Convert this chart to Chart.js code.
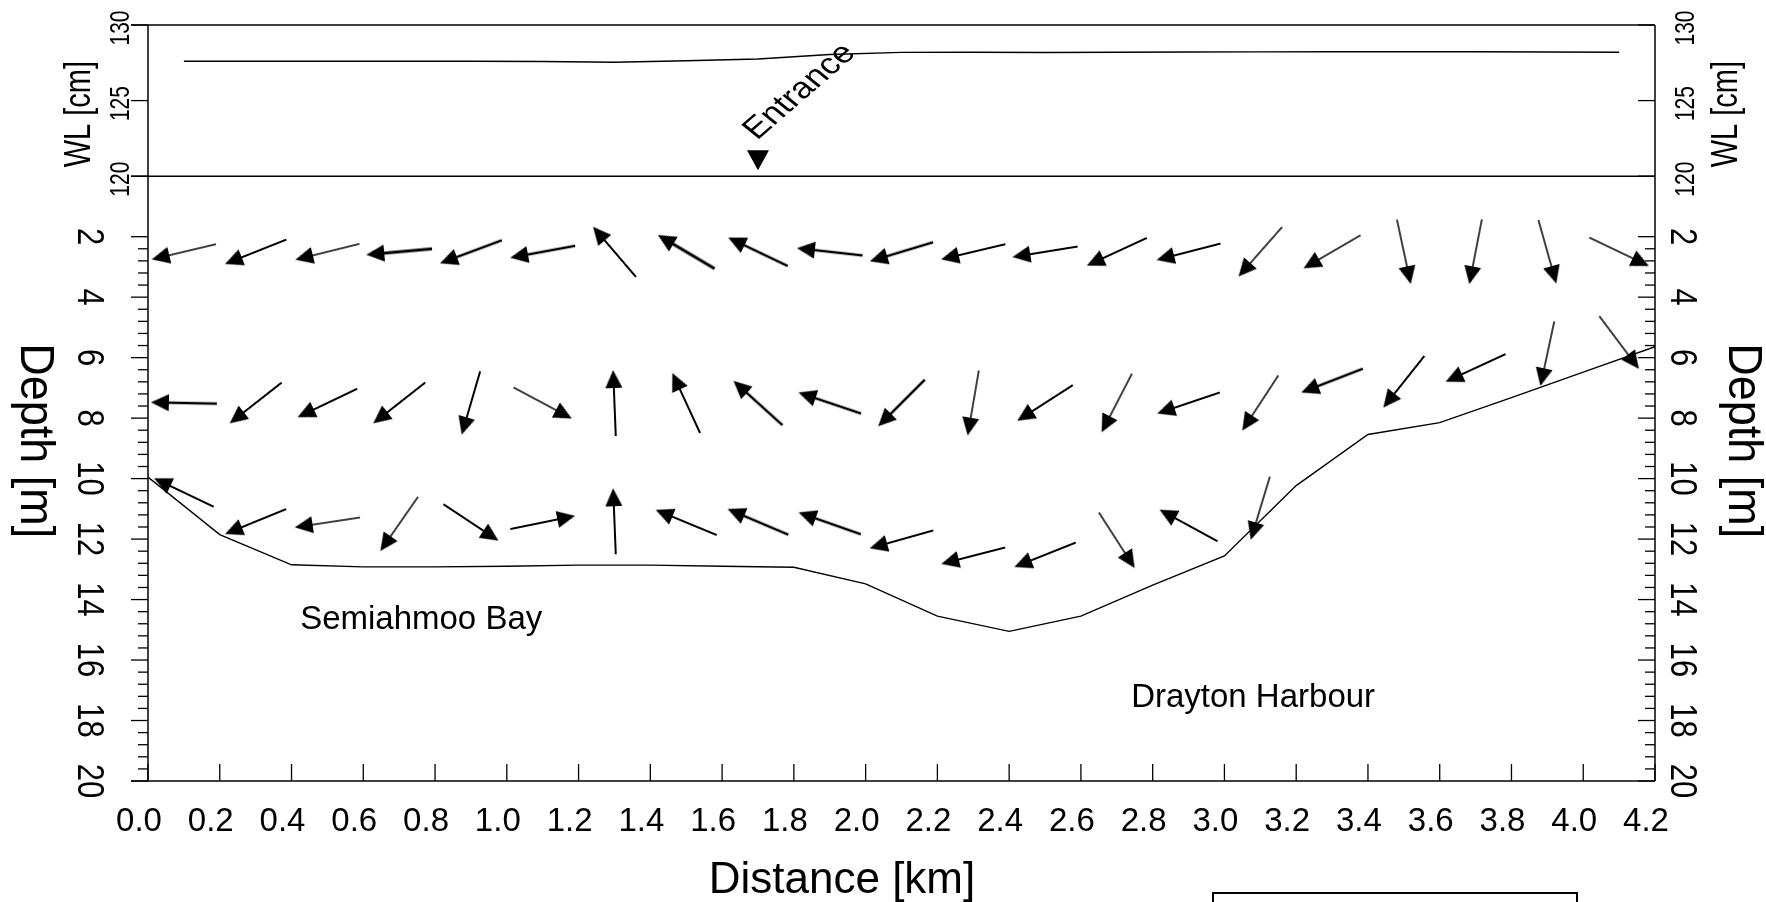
<!DOCTYPE html>
<html>
<head>
<meta charset="utf-8">
<title>Semiahmoo Bay - Drayton Harbour section</title>
<script src="https://cdn.jsdelivr.net/npm/chart.js@4.4.1/dist/chart.umd.min.js"></script>
<style>
  html, body { margin: 0; padding: 0; background: #fff; }
  canvas { display: block; }
</style>
</head>
<body>
<canvas id="section" width="1766" height="902"></canvas>
<script>
// stations along the section (km) where output is shown
const stations = [0.1, 0.3, 0.5, 0.7, 0.9, 1.1, 1.3, 1.5, 1.7, 1.9, 2.1, 2.3, 2.5, 2.7, 2.9, 3.1, 3.3, 3.5, 3.7, 3.9, 4.1];

// water level (cm)
const waterLevel = [127.6, 127.6, 127.6, 127.6, 127.6, 127.59, 127.54, 127.64, 127.75, 128.05, 128.19, 128.2, 128.18, 128.2, 128.21, 128.22, 128.23, 128.23, 128.23, 128.21, 128.2];

// bottom profile
const bedKm = [0, 0.2, 0.4, 0.6, 0.8, 1.0, 1.2, 1.4, 1.6, 1.8, 2.0, 2.2, 2.4, 2.6, 2.8, 3.0, 3.2, 3.4, 3.6, 3.8, 4.0, 4.2];
const bedDepth = [9.95, 11.85, 12.85, 12.92, 12.92, 12.9, 12.86, 12.86, 12.9, 12.93, 13.48, 14.55, 15.05, 14.55, 13.52, 12.56, 10.23, 8.54, 8.15, 7.32, 6.48, 5.64];

// current vectors: direction (u along section, w upward) and speed (cm/s)
const topDepth = [2.5, 2.5, 2.5, 2.5, 2.5, 2.5, 2.5, 2.5, 2.5, 2.5, 2.5, 2.5, 2.5, 2.5, 2.5, 2.5, 2.5, 2.5, 2.5, 2.5, 2.5];
const topU = [-0.97, -0.93, -0.97, -1.0, -0.94, -0.98, -0.65, -0.86, -0.9, -0.99, -0.96, -0.97, -0.99, -0.91, -0.97, -0.66, -0.86, 0.21, -0.19, 0.27, 0.9];
const topW = [-0.23, -0.37, -0.24, -0.09, -0.35, -0.18, 0.76, 0.51, 0.43, 0.11, -0.29, -0.23, -0.16, -0.42, -0.25, -0.75, -0.5, -0.98, -0.98, -0.96, -0.43];
const topSpeed = [13, 17, 13, 27, 24, 20, 18, 27, 24, 24, 22, 17, 17, 18, 18, 14, 14, 12, 12, 14, 14];

const midDepth = [7.5, 7.5, 7.5, 7.5, 7.5, 7.5, 7.5, 7.5, 7.5, 7.5, 7.5, 7.5, 7.5, 7.5, 7.5, 7.5, 6.76, 6.8, 6.34, 5.87, 5.5];
const midU = [-1.0, -0.79, -0.9, -0.79, -0.28, 0.88, -0.04, -0.42, -0.74, -0.95, -0.71, -0.17, -0.84, -0.46, -0.95, -0.55, -0.93, -0.62, -0.91, -0.21, 0.6];
const midW = [0.02, -0.62, -0.43, -0.62, -0.96, -0.47, 1.0, 0.91, 0.67, 0.32, -0.71, -0.99, -0.54, -0.89, -0.32, -0.84, -0.36, -0.78, -0.42, -0.98, -0.8];
const midSpeed = [20, 17, 16, 16, 16, 14, 16, 16, 20, 20, 20, 13, 16, 14, 16, 14, 20, 17, 16, 13, 11];

const botDepth = [10.46, 11.42, 11.45, 11.5, 11.45, 11.45, 11.41, 11.45, 11.43, 11.48, 12.01, 12.55, 12.52, 12.04, 11.55, 10.98];
const botU = [-0.9, -0.93, -0.99, -0.57, 0.83, 0.98, -0.04, -0.92, -0.92, -0.94, -0.96, -0.97, -0.93, 0.54, -0.88, -0.29];
const botW = [0.43, -0.38, -0.15, -0.82, -0.55, 0.2, 1.0, 0.38, 0.39, 0.33, -0.27, -0.25, -0.37, -0.84, 0.48, -0.96];
const botSpeed = [17, 16, 14, 14, 16, 17, 15, 17, 20, 20, 17, 17, 18, 13, 17, 11];

// axis ticks
const distTicks = [0.0, 0.2, 0.4, 0.6, 0.8, 1.0, 1.2, 1.4, 1.6, 1.8, 2.0, 2.2, 2.4, 2.6, 2.8, 3.0, 3.2, 3.4, 3.6, 3.8, 4.0, 4.2];
const depthTicks = [2, 4, 6, 8, 10, 12, 14, 16, 18, 20];
const wlTicks = [120, 125, 130];

const FONT = '"Liberation Sans", Arial, sans-serif';

// all arrows have the same length, shaft width shows the speed
const glyphs = {};
function arrowGlyph(speed) {
    if (glyphs[speed]) return glyphs[speed];
    const c = document.createElement("canvas");
    c.width = 68;
    c.height = 22;
    const g = c.getContext("2d");
    g.fillStyle = "#000";
    g.strokeStyle = "#000";
    g.lineWidth = speed / 10 + 0.3;
    g.beginPath();
    g.moveTo(1, 11);
    g.lineTo(52, 11);
    g.stroke();
    g.beginPath();
    g.moveTo(67, 11);
    g.lineTo(49, 2.5);
    g.lineTo(49, 19.5);
    g.closePath();
    g.fill();
    glyphs[speed] = c;
    return c;
}

function vectorSet(xs, depths, u, w, speed) {
    return {
        data: depths.map((d, i) => ({ x: xs[i], y: d })),
        yAxisID: "depth",
        showLine: false,
        clip: false,
        pointRadius: 5,
        pointStyle: (c) => arrowGlyph(speed[c.dataIndex || 0]),
        pointRotation: (c) => {
            const i = c.dataIndex || 0;
            return Math.atan2(-w[i], u[i]) * 180 / Math.PI;
        }
    };
}

function rotText(ctx, text, px, py, angle, size, stretch) {
    ctx.save();
    ctx.translate(px, py);
    ctx.rotate(angle);
    ctx.scale(1, stretch);
    ctx.font = size + "px " + FONT;
    ctx.textAlign = "center";
    ctx.textBaseline = "alphabetic";
    ctx.fillText(text, 0, 0);
    ctx.restore();
}

// axes, ticks and labels of the two stacked panels
const framePlugin = {
    id: "frame",
    afterDraw(chart) {
        const { ctx, chartArea: a } = chart;
        const { x, depth, wl } = chart.scales;
        const line = (x1, y1, x2, y2) => {
            ctx.beginPath();
            ctx.moveTo(x1, y1);
            ctx.lineTo(x2, y2);
            ctx.stroke();
        };
        ctx.save();
        ctx.strokeStyle = "#000";
        ctx.fillStyle = "#000";
        ctx.lineWidth = 1.5;

        const ySep = wl.getPixelForValue(120);
        line(a.left - 17, a.top, a.right, a.top);
        line(a.left - 17, ySep, a.right, ySep);
        line(a.left - 17, a.bottom, a.right, a.bottom);
        line(a.left, a.top, a.left, a.bottom);
        line(a.right, a.top, a.right, a.bottom);

        // depth ticks from 2 m down: outside on the left, inside on the right
        ctx.lineWidth = 1.3;
        for (let k = 5; k <= 50; k++) {
            const d = k * 0.4;
            const yy = depth.getPixelForValue(d);
            const major = depthTicks.includes(Math.round(d * 10) / 10);
            const len = major ? 17 : 10;
            line(a.left - len, yy, a.left, yy);
            line(a.right - len, yy, a.right, yy);
        }
        wlTicks.forEach((v) => {
            const yy = wl.getPixelForValue(v);
            line(a.left - 17, yy, a.left, yy);
            line(a.right - 17, yy, a.right, yy);
        });
        distTicks.forEach((v) => {
            const xx = x.getPixelForValue(v);
            line(xx, a.bottom, xx, a.bottom - 17);
        });

        // tick labels
        ctx.font = "33px " + FONT;
        ctx.textAlign = "center";
        ctx.textBaseline = "alphabetic";
        distTicks.forEach((v) => {
            ctx.fillText(v.toFixed(1), x.getPixelForValue(v) - 9, a.bottom + 50);
        });
        depthTicks.forEach((v) => {
            const yy = depth.getPixelForValue(v);
            rotText(ctx, String(v), 78, yy, Math.PI / 2, 31, 1.2);
            rotText(ctx, String(v), 1671, yy, Math.PI / 2, 31, 1.2);
        });
        wlTicks.forEach((v) => {
            const yy = wl.getPixelForValue(v) + 3;
            rotText(ctx, String(v), 129, yy, -Math.PI / 2, 21, 1.3);
            rotText(ctx, String(v), 1694, yy, -Math.PI / 2, 21, 1.3);
        });

        // axis titles
        ctx.font = "44px " + FONT;
        ctx.fillText("Distance [km]", a.left + (a.right - a.left) * 0.4605, 893);
        const depthMid = depth.getPixelForValue(8.75);
        rotText(ctx, "Depth [m]", 21, depthMid, Math.PI / 2, 45, 1.08);
        rotText(ctx, "Depth [m]", 1729, depthMid, Math.PI / 2, 45, 1.08);
        const wlMid = wl.getPixelForValue(124.1);
        rotText(ctx, "WL [cm]", 90, wlMid, -Math.PI / 2, 29, 1.25);
        rotText(ctx, "WL [cm]", 1737, wlMid, -Math.PI / 2, 29, 1.25);

        // place names
        ctx.font = "33px " + FONT;
        ctx.textAlign = "left";
        ctx.fillText("Semiahmoo Bay", x.getPixelForValue(0.424), depth.getPixelForValue(14.97));
        ctx.fillText("Drayton Harbour", x.getPixelForValue(2.74), depth.getPixelForValue(17.55));

        // entrance marker
        const ex = x.getPixelForValue(1.7);
        ctx.beginPath();
        ctx.moveTo(ex, ySep - 6);
        ctx.lineTo(ex - 11, ySep - 26);
        ctx.lineTo(ex + 11, ySep - 26);
        ctx.closePath();
        ctx.fill();
        ctx.save();
        ctx.translate(x.getPixelForValue(1.697), wl.getPixelForValue(122.35));
        ctx.scale(1.2, 1);
        ctx.rotate(-46 * Math.PI / 180);
        ctx.font = "30px " + FONT;
        ctx.textAlign = "left";
        ctx.fillText("Entrance", 0, 0);
        ctx.restore();

        // legend box, cut by the page edge
        ctx.lineWidth = 2;
        ctx.strokeRect(1213, 893, 364, 30);
        ctx.restore();
    }
};

new Chart(document.getElementById("section"), {
    type: "scatter",
    data: {
        datasets: [
            {
                data: stations.map((s, i) => ({ x: s, y: waterLevel[i] })),
                yAxisID: "wl",
                showLine: true,
                borderColor: "#000",
                borderWidth: 1.4,
                pointRadius: 0
            },
            {
                data: bedKm.map((s, i) => ({ x: s, y: bedDepth[i] })),
                yAxisID: "depth",
                showLine: true,
                borderColor: "#000",
                borderWidth: 1.4,
                pointRadius: 0
            },
            vectorSet(stations, topDepth, topU, topW, topSpeed),
            vectorSet(stations, midDepth, midU, midW, midSpeed),
            vectorSet(stations.slice(0, 16), botDepth, botU, botW, botSpeed)
        ]
    },
    options: {
        responsive: false,
        animation: false,
        devicePixelRatio: 1,
        events: [],
        layout: { padding: { left: 148, right: 111, top: 25, bottom: 121 } },
        plugins: {
            legend: { display: false },
            tooltip: { enabled: false }
        },
        scales: {
            x: { type: "linear", min: 0, max: 4.2, display: false },
            depth: { axis: "y", position: "left", type: "linear", min: -5, max: 20, reverse: true, display: false },
            wl: { axis: "y", position: "left", type: "linear", min: 80, max: 130, display: false }
        }
    },
    plugins: [framePlugin]
});
</script>
</body>
</html>
